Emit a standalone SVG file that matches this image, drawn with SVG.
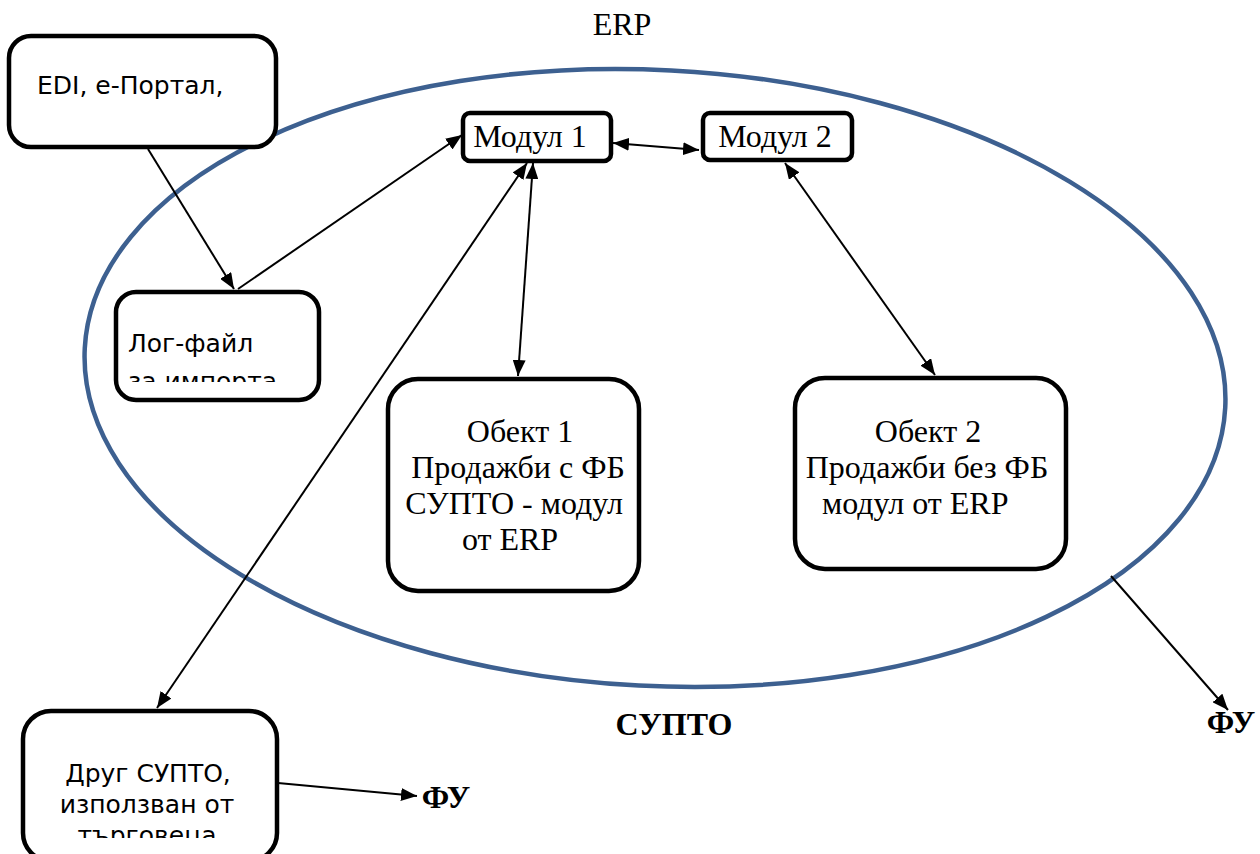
<svg xmlns="http://www.w3.org/2000/svg" width="1260" height="854" viewBox="0 0 1260 854">
<style>
.box{fill:#fff;stroke:#000;stroke-width:4.5}
.sans{font-family:"DejaVu Sans","Liberation Sans",sans-serif;font-size:25px;fill:#000}
.serif{font-family:"Liberation Serif","DejaVu Serif",serif;font-size:32px;fill:#000}
.lbl{font-family:"Liberation Serif","DejaVu Serif",serif;font-size:32px;font-weight:bold;fill:#000}
.ln{stroke:#000;stroke-width:2;fill:none}
</style>
<defs>
<marker id="ah" viewBox="0 0 10 10" refX="10" refY="5" markerWidth="16" markerHeight="13" markerUnits="userSpaceOnUse" orient="auto-start-reverse" preserveAspectRatio="none">
<path d="M0,0 L10,5 L0,10 z" fill="#000"/>
</marker>
<clipPath id="clipLog"><rect x="115" y="291" width="205" height="91"/></clipPath>
<clipPath id="clipDrug"><rect x="22" y="710" width="256" height="128"/></clipPath>
</defs>
<g id="ellipse-erp">
<ellipse cx="655" cy="378" rx="571" ry="308" transform="rotate(3 655 378)" fill="none" stroke="#3D6090" stroke-width="4.5"/>
</g>
<text class="serif" x="622" y="35" text-anchor="middle" font-size="29">ERP</text>
<g id="connectors">
<line class="ln" x1="148" y1="149" x2="234" y2="289" marker-end="url(#ah)"/>
<line class="ln" x1="238" y1="289" x2="462" y2="135" marker-end="url(#ah)"/>
<line class="ln" x1="613" y1="143" x2="699" y2="150" marker-start="url(#ah)" marker-end="url(#ah)"/>
<line class="ln" x1="533" y1="163" x2="518" y2="376" marker-start="url(#ah)" marker-end="url(#ah)"/>
<line class="ln" x1="527" y1="163" x2="157" y2="708" marker-start="url(#ah)" marker-end="url(#ah)"/>
<line class="ln" x1="785" y1="163" x2="935" y2="375" marker-start="url(#ah)" marker-end="url(#ah)"/>
<line class="ln" x1="1111" y1="576" x2="1228" y2="710" marker-end="url(#ah)"/>
<line class="ln" x1="278" y1="783" x2="417" y2="796" marker-end="url(#ah)"/>
</g>
<g id="node-edi">
<rect class="box" x="9" y="36" width="267" height="111" rx="22"/>
<text class="sans" x="37" y="94">EDI, е-Портал,</text>
</g>
<g id="node-log">
<rect class="box" x="116" y="292" width="203" height="108" rx="20"/>
<g clip-path="url(#clipLog)">
<text class="sans" x="128" y="352">Лог-файл</text>
<text class="sans" x="128" y="390">за импорта</text>
</g>
</g>
<g id="node-modul1">
<rect class="box" x="463" y="113" width="148" height="48" rx="7"/>
<text class="serif" x="530" y="147" text-anchor="middle">Модул 1</text>
</g>
<g id="node-modul2">
<rect class="box" x="703" y="113" width="149" height="47" rx="7"/>
<text class="serif" x="775" y="147" text-anchor="middle">Модул 2</text>
</g>
<g id="node-obekt1">
<rect class="box" x="388" y="379" width="251" height="212" rx="30"/>
<text class="serif" x="520" y="442" text-anchor="middle">Обект 1</text>
<text class="serif" x="518" y="478" text-anchor="middle">Продажби с ФБ</text>
<text class="serif" x="514" y="514" text-anchor="middle">СУПТО - модул</text>
<text class="serif" x="510" y="550" text-anchor="middle">от ERP</text>
</g>
<g id="node-obekt2">
<rect class="box" x="795" y="378" width="271" height="191" rx="30"/>
<text class="serif" x="928" y="442" text-anchor="middle">Обект 2</text>
<text class="serif" x="927" y="478" text-anchor="middle">Продажби без ФБ</text>
<text class="serif" x="822" y="514">модул от ERP</text>
</g>
<g id="node-drug">
<rect class="box" x="23" y="711" width="254" height="150" rx="28"/>
<g clip-path="url(#clipDrug)">
<text class="sans" x="148" y="782" text-anchor="middle">Друг СУПТО,</text>
<text class="sans" x="147" y="813" text-anchor="middle">използван от</text>
<text class="sans" x="147" y="844" text-anchor="middle">търговеца</text>
</g>
</g>
<text class="lbl" x="674" y="735" text-anchor="middle">СУПТО</text>
<text class="lbl" x="1231" y="733" text-anchor="middle" font-size="31">ФУ</text>
<text class="lbl" x="446" y="808" text-anchor="middle" font-size="35">ФУ</text>
</svg>
